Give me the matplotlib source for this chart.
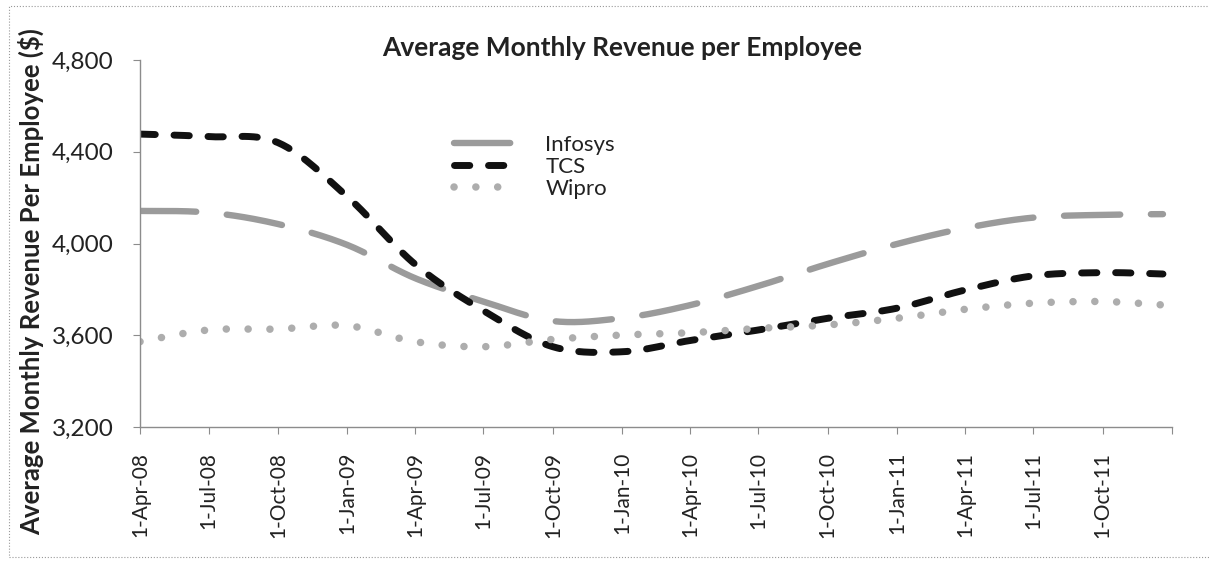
import numpy as np
import pandas as pd
import matplotlib
matplotlib.use("Agg")
import matplotlib.pyplot as plt
import matplotlib.dates as mdates
import matplotlib.transforms as mtransforms
from matplotlib.patches import Rectangle

plt.rcParams['font.family'] = ['Lato', 'DejaVu Sans']

# quarterly observations (last one read just before the axis end)
dates = ['2008-04-01', '2008-07-01', '2008-10-01', '2009-01-01', '2009-04-01',
         '2009-07-01', '2009-10-01', '2010-01-01', '2010-04-01', '2010-07-01',
         '2010-10-01', '2011-01-01', '2011-04-01', '2011-07-01', '2011-10-01',
         '2011-12-20']
infosys = [4142, 4135, 4085, 3994, 3849, 3747, 3662, 3675, 3731, 3815,
           3911, 3998, 4067, 4113, 4125, 4128]
tcs = [4477, 4466, 4440, 4205, 3910, 3707, 3550, 3528, 3577, 3623,
       3674, 3718, 3797, 3859, 3873, 3867]
wipro = [3572, 3623, 3627, 3642, 3572, 3550, 3582, 3601, 3611, 3630,
         3645, 3674, 3713, 3740, 3747, 3732]

tick_dates = pd.date_range('2008-04-01', '2012-01-01', freq='QS-JAN')
tick_labels = [f"{d.day}-{d.strftime('%b-%y')}" for d in tick_dates[:-1]] + ['']


def smooth(x, y, n=30):
    # Excel-style smoothed line: cubic Bezier through points
    x = np.asarray(x, float)
    y = np.asarray(y, float)
    P = np.column_stack([x, y])
    P = np.vstack([P[0], P, P[-1]])
    out = []
    t = np.linspace(0, 1, n)[:, None]
    for i in range(1, len(P) - 2):
        p0, p3 = P[i], P[i + 1]
        c1 = p0 + (P[i + 1] - P[i - 1]) / 6
        c2 = p3 - (P[i + 2] - P[i]) / 6
        seg = ((1 - t) ** 3) * p0 + 3 * ((1 - t) ** 2) * t * c1 + 3 * (1 - t) * t ** 2 * c2 + t ** 3 * p3
        out.append(seg if i == 1 else seg[1:])
    out = np.vstack(out)
    return out[:, 0], out[:, 1]


xd = mdates.date2num(pd.to_datetime(dates))

fig = plt.figure(figsize=(12.09, 5.61), dpi=100)
ax = fig.add_axes([140 / 1209, 1 - 427 / 561, 1032 / 1209, 367 / 561])

sx, sy = smooth(xd, infosys)
ax.plot(sx, sy, color='#9b9b9b', lw=4.6, dashes=(8.8, 4.8), dash_capstyle='round',
        label='Infosys')
sx, sy = smooth(xd, tcs)
ax.plot(sx, sy, color='#111111', lw=5.0, dashes=(2.2, 2.7), dash_capstyle='round',
        label='TCS')
sx, sy = smooth(xd, wipro)
ax.plot(sx, sy, color='#adadad', lw=5.4, dashes=(0.01, 2.9), dash_capstyle='round',
        label='Wipro')

ax.set_xlim(mdates.date2num(tick_dates[0]), mdates.date2num(tick_dates[-1]))
ax.set_ylim(3200, 4800)
ax.set_yticks([3200, 3600, 4000, 4400, 4800])
ax.set_yticklabels([f"{v:,}" for v in [3200, 3600, 4000, 4400, 4800]], fontsize=17.5)
ax.set_xticks(mdates.date2num(tick_dates))
ax.set_xticklabels(tick_labels, rotation=90, fontsize=15)
offset = mtransforms.ScaledTranslation(8 / 100, 0, fig.dpi_scale_trans)
for lab in ax.get_xticklabels():
    lab.set_transform(lab.get_transform() + offset)

for s in ['top', 'right']:
    ax.spines[s].set_visible(False)
for s in ['left', 'bottom']:
    ax.spines[s].set_color('#8c8c8c')
    ax.spines[s].set_linewidth(1.0)
ax.tick_params(axis='both', colors='#8c8c8c', length=5, labelcolor='#222222')
ax.tick_params(axis='y', pad=14)
ax.tick_params(axis='x', pad=13)

ax.set_ylabel('Average Monthly Revenue Per Employee ($)', fontsize=18.5,
              fontweight='bold', color='#222222')
ax.yaxis.set_label_coords(-0.093, 0.395)
fig.text(622 / 1209, 1 - 48 / 561, 'Average Monthly Revenue per Employee',
         ha='center', va='center', fontsize=19, fontweight='bold', color='#222222')

ax.legend(loc='upper left', bbox_to_anchor=(0.285, 0.85), frameon=False,
          fontsize=16, handlelength=2.9, handletextpad=1.2, labelspacing=0.08,
          labelcolor='#222222')

fig.patches.append(Rectangle((9 / 1209, 4 / 561), 1.2, 551 / 561,
                             transform=fig.transFigure, fill=False,
                             edgecolor='#999999', lw=0.8, ls=':'))

fig.savefig('out.png', dpi=100)
